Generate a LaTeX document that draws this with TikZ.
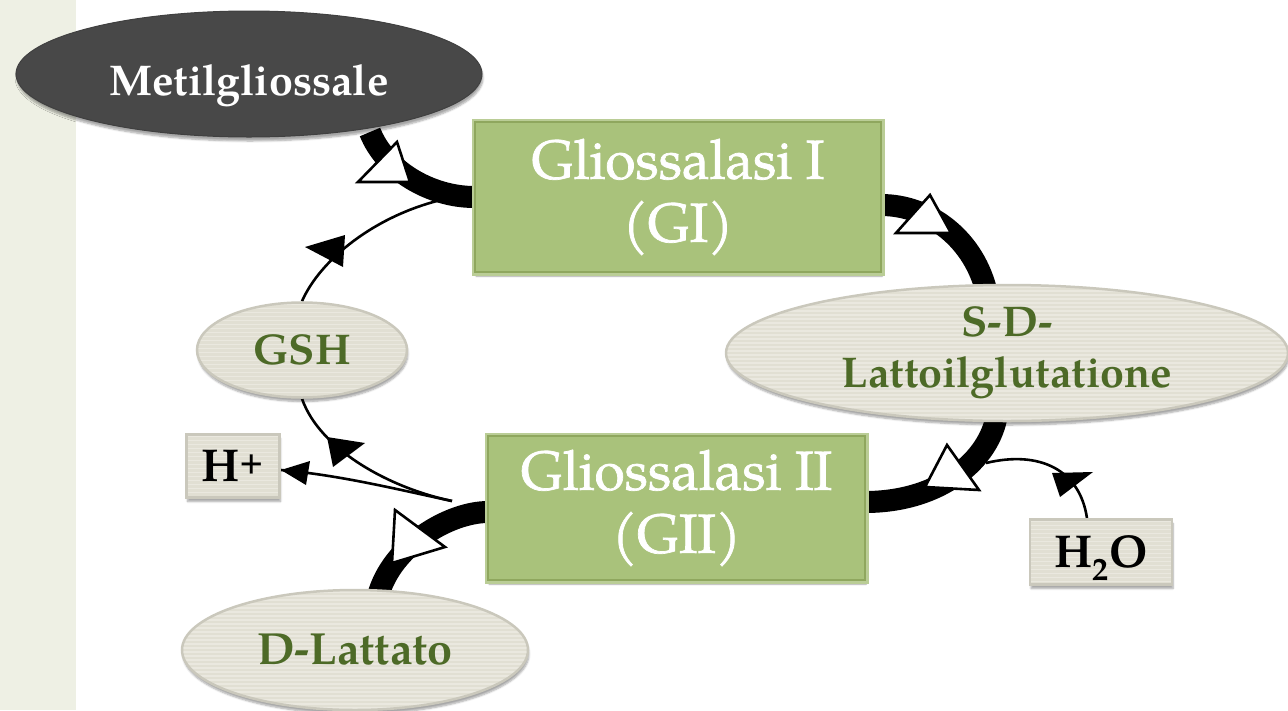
\documentclass[tikz,border=0pt]{standalone}
\usepackage{fontspec}
\setmainfont{TeX Gyre Pagella}
\newfontfamily\enzfont[FakeBold=1.3]{TeX Gyre Pagella}
\usetikzlibrary{shapes.geometric,shadows.blur,calc}
\definecolor{stripcol}{HTML}{EEF0E4}
\definecolor{metilfill}{HTML}{484848}
\definecolor{boxgreen}{HTML}{A9C27B}
\definecolor{boxedge}{HTML}{8FA75E}
\definecolor{boxframe}{HTML}{BACD96}
\definecolor{ellfill}{HTML}{E1DFD3}
\definecolor{ellline}{HTML}{EAE8DF}
\definecolor{elledge}{HTML}{CAC8BC}
\definecolor{txtgreen}{HTML}{4D6A27}
\pgfdeclarelayer{bg}
\pgfsetlayers{bg,main}
\tikzset{
  shade3/.style={blur shadow={shadow xshift=1pt, shadow yshift=-4pt, shadow blur steps=6, shadow opacity=35}},
  stripes/.style={path picture={
      \foreach \k in {2,6,...,200}{
        \draw[ellline, line width=1.3pt]
          ([yshift={-\k*1pt}]path picture bounding box.north west) --
          ([yshift={-\k*1pt}]path picture bounding box.north east);}}},
  greenbox/.style={rectangle, shade3, preaction={draw=boxframe, line width=7pt},
    fill=boxgreen, draw=boxedge, line width=1.2pt, text=white, align=center,
    font=\enzfont\fontsize{55}{63}\selectfont, inner sep=0pt},
  greyell/.style={ellipse, shade3, fill=ellfill, stripes, draw=elledge, line width=2.5pt,
    text=txtgreen, align=center, font=\fontsize{43}{51}\selectfont\bfseries, inner sep=0pt},
  greybox/.style={rectangle, shade3, fill=ellfill, stripes, draw=elledge, line width=2.5pt,
    text=black, font=\fontsize{46}{50}\selectfont\bfseries, inner sep=0pt},
  metilell/.style={ellipse, shade3, fill=metilfill, draw=black!75, line width=1pt,
    text=white, font=\fontsize{43}{50}\selectfont\bfseries, inner sep=0pt},
  thickarrow/.style={line width=22pt, draw=black},
  thinarrow/.style={line width=2.6pt, draw=black},
  opentri/.style={draw=black, fill=white, line width=2.6pt, line join=miter},
  solidtri/.style={fill=black}
}
\begin{document}
\begin{tikzpicture}[x=1pt,y=-1pt]
\useasboundingbox (0,0) rectangle (1288,710);
\fill[stripcol] (0,0) rectangle (76,710);

\node[metilell, minimum width=466pt, minimum height=126pt, text height=42pt, text depth=0pt] (Metil) at (249,74) {Metilgliossale};
\node[greenbox, minimum width=406pt, minimum height=150pt] (GI) at (678,197) {Gliossalasi I\\(GI)};
\node[greenbox, minimum width=377pt, minimum height=144pt] (GII) at (676.5,508) {Gliossalasi II\\(GII)};
\node[greyell, minimum width=562pt, minimum height=136pt] (SD) at (1007,353) {S-D-\\Lattoilglutatione};
\node[greyell, minimum width=210pt, minimum height=95pt] (GSH) at (302,350) {GSH};
\node[greyell, minimum width=346pt, minimum height=120pt, font=\fontsize{45}{51}\selectfont\bfseries] (DL) at (355,650) {D-Lattato};
\node[greybox, minimum width=93pt, minimum height=63pt] (Hp) at (233,466) {H\textsuperscript{+}};
\node[greybox, minimum width=142pt, minimum height=65pt, text depth=0pt] (Hw) at (1101,552) {H\textsubscript{2}O};

\coordinate (m1) at (370,132);
\coordinate (g1) at (881,205);
\coordinate (s1) at (987,294);
\coordinate (s2) at (997,414);
\coordinate (g2e) at (865,502);
\coordinate (g2w) at (488,512);
\coordinate (d1) at (378,596);
\coordinate (j1) at (445,199);
\coordinate (j2) at (452,501);
\coordinate (j3) at (986,463);

\begin{pgfonlayer}{bg}
\draw[thickarrow] (GI.west) .. controls (430,197) and (385,170) .. (m1);
\draw[thickarrow] (g1) .. controls (930,205) and (975,240) .. (s1);
\draw[thickarrow] (s2) .. controls (990,460) and (940,502) .. (g2e);
\draw[thickarrow] (g2w) .. controls (450,512) and (392,545) .. (d1);
\draw[thinarrow] (GSH.north) .. controls (320,260) and (375,215) .. (j1);
\draw[thinarrow] (GSH.south) .. controls (320,450) and (390,488) .. (j2);
\draw[thinarrow] (j2) .. controls (400,490) and (340,475) .. ([yshift=-4pt]Hp.east);
\draw[thinarrow] ([xshift=-14pt]Hw.north) .. controls (1080,470) and (1040,450) .. (j3);
\end{pgfonlayer}

% open arrowheads on the thick arrows
\draw[opentri] (358,182) -- (410,182) -- (397,142) -- cycle;
\draw[opentri] (896,233) -- (951,233) -- (930,195) -- cycle;
\draw[opentri] (925,487) -- (979,490) -- (947,445) -- cycle;
\draw[opentri] (395,510) -- (445,547) -- (392,563) -- cycle;
% solid arrowheads on the thin arrows
\fill[solidtri] (305,247) -- (345,235) -- (343,267) -- cycle;
\fill[solidtri] (327,437) -- (365,443) -- (333,467) -- cycle;
\fill[solidtri] (281,470) -- (310,461) -- (306,485) -- cycle;
\fill[solidtri] (1052,473) -- (1093,472) -- (1060,497) -- cycle;
\end{tikzpicture}
\end{document}
